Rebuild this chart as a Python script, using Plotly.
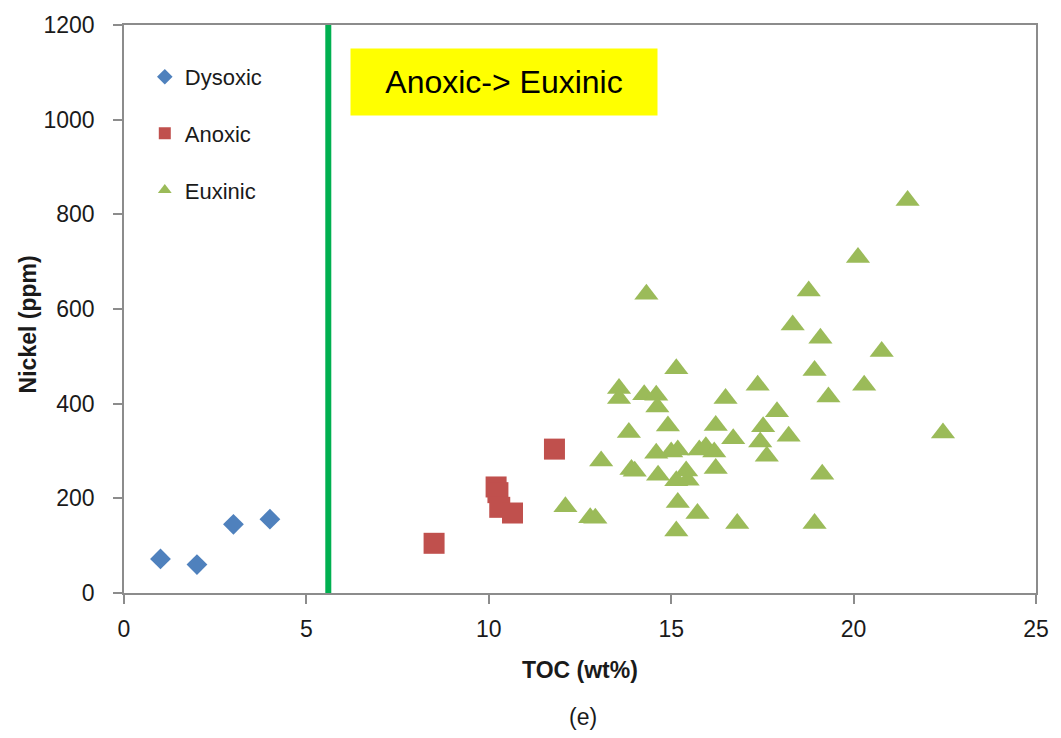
import plotly.graph_objects as go

# TOC (wt%) and nickel (ppm) for each redox facies
dysoxic_toc = [1.0, 2.0, 3.0, 4.0]
dysoxic_ni = [72, 60, 145, 156]

anoxic_toc = [8.5, 10.2, 10.25, 10.3, 10.65, 11.8]
anoxic_ni = [105, 224, 212, 181, 169, 304]

euxinic_toc = [21.48, 20.12, 18.77, 18.33, 19.09, 20.77, 18.93, 17.37, 19.31, 20.29,
               17.9, 17.52, 18.22, 17.44, 17.62, 22.45, 19.14, 18.93,
               14.32, 15.14, 13.57, 13.57, 14.26, 14.59, 14.62, 16.49, 14.91, 16.22,
               13.84, 16.7, 13.08, 14.59, 15.0, 15.18, 15.77, 15.95, 16.18,
               13.91, 14.0, 14.64, 15.41, 16.22, 15.14, 15.45, 15.18, 12.1, 12.78,
               12.92, 15.72, 15.14, 16.81]
euxinic_ni = [829, 709, 638, 566, 538, 510, 470, 439, 414, 439,
              383, 351, 331, 319, 289, 338, 251, 147,
              631, 474, 432, 411, 419, 418, 393, 411, 353, 354,
              339, 326, 279, 295, 298, 302, 302, 309, 298,
              261, 257, 249, 258, 263, 237, 238, 191, 182, 159,
              158, 168, 131, 147]

boundary_toc = 5.6  # dysoxic / anoxic threshold line

x_ticks = [0, 5, 10, 15, 20, 25]
y_ticks = [0, 200, 400, 600, 800, 1000, 1200]

FONT = "'Liberation Sans', Arial, sans-serif"
AXIS_GREY = "#8c8c8c"
TEXT = "#1a1a1a"

# plot-area geometry in pixels (used to place paper-referenced text)
L, R, T, B = 124, 1045, 24, 593
W, H = R - L, B - T


def px_x(px):
    return (px - L) / W


def px_y(py):
    return (B - py) / H


fig = go.Figure()

fig.add_trace(go.Scatter(
    x=dysoxic_toc, y=dysoxic_ni, mode="markers", name="Dysoxic", legendgroup="a",
    marker=dict(symbol="diamond", size=16, color="#4f81bd", line=dict(width=0)),
))
fig.add_trace(go.Scatter(
    x=anoxic_toc, y=anoxic_ni, mode="markers", name="Anoxic", legendgroup="b",
    marker=dict(symbol="square", size=21, color="#c0504d", line=dict(width=0)),
))
fig.add_trace(go.Scatter(
    x=euxinic_toc, y=euxinic_ni, mode="markers", name="Euxinic", legendgroup="c",
    marker=dict(symbol="triangle-up", size=21, color="#9bbb59", line=dict(width=0)),
))

# vertical threshold line
fig.add_shape(type="line", xref="x", yref="paper", x0=boundary_toc, x1=boundary_toc,
              y0=0, y1=1, line=dict(color="#00b050", width=6), layer="below")

fig.add_annotation(
    xref="paper", yref="paper", x=px_x(352), y=px_y(47),
    xanchor="left", yanchor="top", text="Anoxic-> Euxinic", showarrow=False,
    bgcolor="#ffff00", width=306, height=66, align="center", borderpad=0,
    font=dict(family=FONT, size=32, color="black"),
)

# axis titles
fig.add_annotation(
    xref="paper", yref="paper", x=px_x(584), y=px_y(670),
    xanchor="center", yanchor="middle", text="<b>TOC (wt%)</b>", showarrow=False,
    font=dict(family=FONT, size=23, color=TEXT),
)
fig.add_annotation(
    xref="paper", yref="paper", x=px_x(28), y=px_y(324),
    xanchor="center", yanchor="middle", text="<b>Nickel (ppm)</b>", showarrow=False,
    textangle=-90, font=dict(family=FONT, size=23, color=TEXT),
)

fig.add_annotation(
    xref="paper", yref="paper", x=px_x(588), y=px_y(717),
    xanchor="center", yanchor="middle", text="(e)", showarrow=False,
    font=dict(family=FONT, size=23, color=TEXT),
)

axis_common = dict(
    showgrid=False, zeroline=False, showline=True, linecolor=AXIS_GREY, linewidth=1.5,
    mirror=True, ticks="outside", ticklen=9, tickcolor=AXIS_GREY, tickwidth=1.5,
    tickfont=dict(family=FONT, size=23, color=TEXT),
)

fig.update_layout(
    width=1061, height=738,
    margin=dict(l=L, r=1061 - R, t=T, b=738 - B),
    paper_bgcolor="white", plot_bgcolor="white",
    xaxis=dict(range=[0, 25], tickvals=x_ticks, ticklabelstandoff=6, **axis_common),
    yaxis=dict(range=[0, 1200], tickvals=y_ticks, ticklabelstandoff=14, **axis_common),
    legend=dict(x=px_x(145), y=px_y(55), xanchor="left", yanchor="top",
                bgcolor="rgba(0,0,0,0)", font=dict(family=FONT, size=22, color=TEXT),
                itemsizing="constant", tracegroupgap=25, itemwidth=30),
    showlegend=True,
)

fig.write_html("out.html")
